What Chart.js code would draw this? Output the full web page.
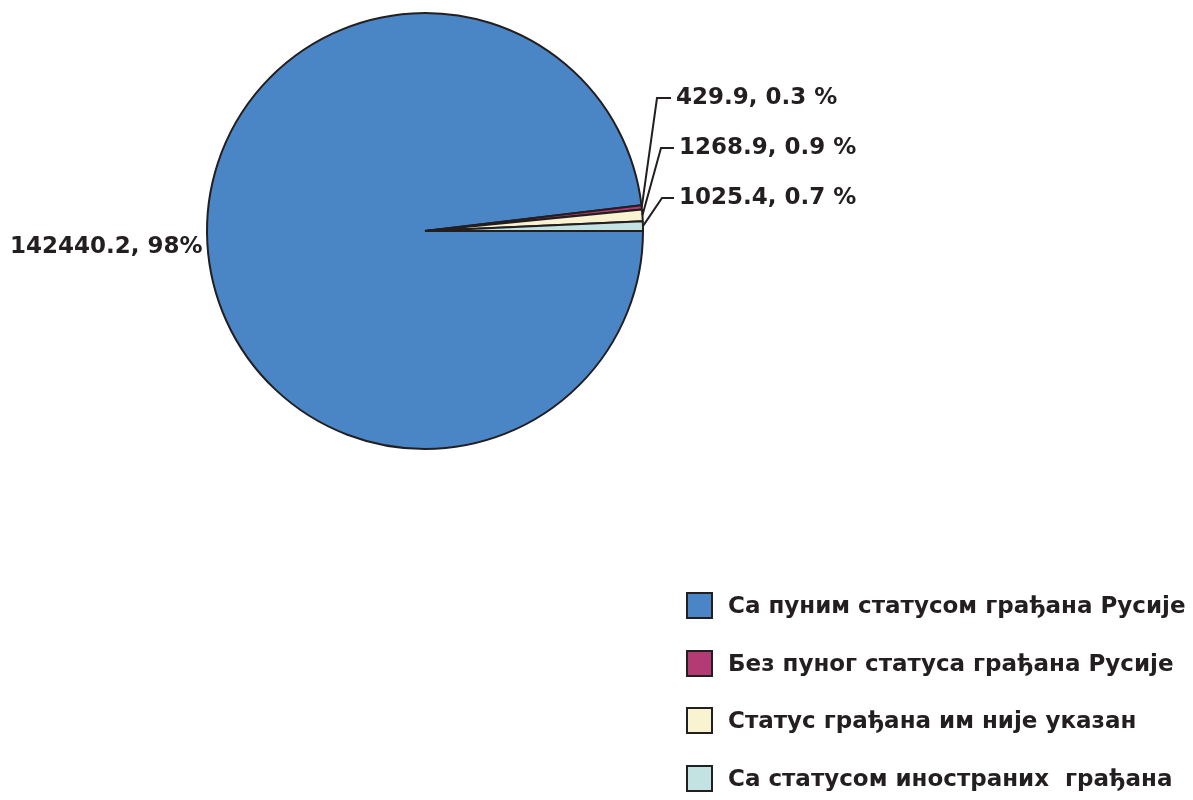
<!DOCTYPE html>
<html lang="sr">
<head>
    <meta charset="UTF-8">
    <title>Становништво према статусу грађанства</title>
    <script src="https://cdn.jsdelivr.net/npm/chart.js"></script>
    <style>
        body {
            margin: 0;
            padding: 0;
            background-color: #fff;
            font-family: "DejaVu Sans", Arial, sans-serif;
        }
        .wrap {
            position: relative;
            width: 1193px;
            height: 800px;
        }
        #pieChart {
            position: absolute;
            left: 0;
            top: 0;
        }
        .legend {
            position: absolute;
            left: 686px;
            top: 592px;
        }
        .legend .item {
            position: relative;
            height: 57.7px;
        }
        .legend .box {
            position: absolute;
            left: 0;
            top: 0;
            width: 23px;
            height: 23px;
            border: 2px solid #231f20;
        }
        .legend .text {
            position: absolute;
            left: 42px;
            top: 0px;
            font-weight: bold;
            font-size: 23px;
            line-height: 27px;
            color: #231f20;
            white-space: pre;
        }
    </style>
</head>
<body>
    <div class="wrap">
        <canvas id="pieChart" width="1193" height="800"></canvas>
        <div class="legend" id="legend"></div>
    </div>

    <script>
        const categories = [
            'Са пуним статусом грађана Русије',
            'Без пуног статуса грађана Русије',
            'Статус грађана им није указан',
            'Са статусом иностраних  грађана'
        ];
        const values = [142440.2, 429.9, 1268.9, 1025.4];
        const percentLabels = ['98%', '0.3 %', '0.9 %', '0.7 %'];
        const colors = ['#4a86c6', '#b43a74', '#faf3d2', '#c2e3e1'];

        // where each value label sits (text left x, middle y, elbow of the leader line)
        const labelLayout = [
            { x: 10, y: 247, elbow: null },
            { x: 676, y: 98, elbow: [657, 98] },
            { x: 679, y: 148, elbow: [661, 148] },
            { x: 679, y: 198, elbow: [662, 198] }
        ];

        const sliceLabels = {
            id: 'sliceLabels',
            afterDatasetsDraw(chart) {
                const ctx = chart.ctx;
                const arcs = chart.getDatasetMeta(0).data;
                ctx.save();
                ctx.font = 'bold 23px "DejaVu Sans", sans-serif';
                ctx.fillStyle = '#231f20';
                ctx.strokeStyle = '#231f20';
                ctx.lineWidth = 2;
                ctx.textBaseline = 'middle';
                arcs.forEach((arc, i) => {
                    const pos = labelLayout[i];
                    const p = arc.getProps(['x', 'y', 'startAngle', 'endAngle', 'outerRadius'], true);
                    if (pos.elbow) {
                        const mid = (p.startAngle + p.endAngle) / 2;
                        const sx = p.x + p.outerRadius * Math.cos(mid);
                        const sy = p.y + p.outerRadius * Math.sin(mid);
                        ctx.beginPath();
                        ctx.moveTo(sx, sy);
                        ctx.lineTo(pos.elbow[0], pos.elbow[1]);
                        ctx.lineTo(pos.x - 5, pos.elbow[1]);
                        ctx.stroke();
                    }
                    ctx.fillText(values[i] + ', ' + percentLabels[i], pos.x, pos.y);
                });
                ctx.restore();
            }
        };

        function renderChart() {
            const ctx = document.getElementById('pieChart').getContext('2d');
            new Chart(ctx, {
                type: 'pie',
                data: {
                    labels: categories,
                    datasets: [{
                        data: values,
                        backgroundColor: colors,
                        borderColor: '#231f20',
                        borderWidth: 2
                    }]
                },
                options: {
                    responsive: false,
                    animation: false,
                    rotation: 90,
                    layout: {
                        padding: { left: 206, right: 549, top: 12, bottom: 350 }
                    },
                    plugins: {
                        legend: { display: false },
                        tooltip: { enabled: false }
                    }
                },
                plugins: [sliceLabels]
            });
        }

        function renderLegend() {
            const legend = document.getElementById('legend');
            categories.forEach((name, i) => {
                const item = document.createElement('div');
                item.className = 'item';
                item.innerHTML = '<div class="box" style="background:' + colors[i] + '"></div>' +
                    '<div class="text">' + name + '</div>';
                legend.appendChild(item);
            });
        }

        renderChart();
        renderLegend();
    </script>
</body>
</html>
